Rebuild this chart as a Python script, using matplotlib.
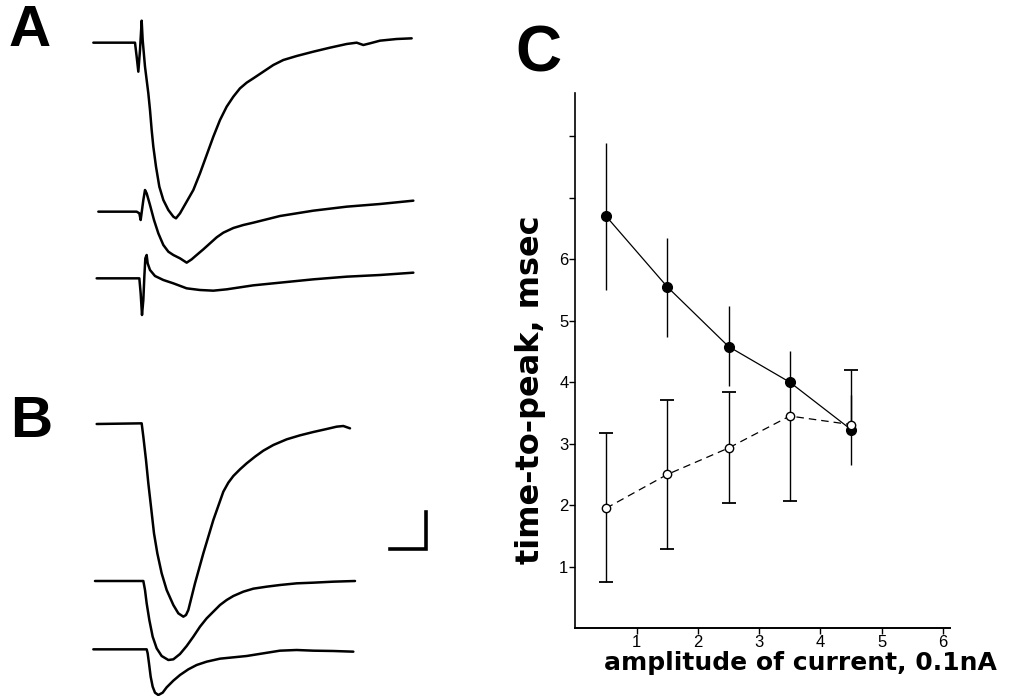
import matplotlib
matplotlib.use("Agg")
import matplotlib.pyplot as plt
import numpy as np

# ---------------- Panel C data ----------------
amp = [0.5, 1.5, 2.5, 3.5, 4.5]
filled_y = [6.70, 5.55, 4.58, 4.00, 3.23]
filled_lo = [1.20, 0.81, 0.64, 0.50, 0.57]
filled_hi = [1.19, 0.79, 0.66, 0.50, 0.57]
open_y = [1.95, 2.50, 2.93, 3.45, 3.31]
open_lo = [1.20, 1.22, 0.90, 1.38, 0.0]
open_hi = [1.22, 1.21, 0.91, 0.0, 0.89]
yticks = [1, 2, 3, 4, 5, 6, 7, 8]
yticklabels = ["1", "2", "3", "4", "5", "6", "", ""]
xticks = [1, 2, 3, 4, 5, 6]
xticklabels = ["1", "2", "3", "4", "5", "6"]

# ---------------- Panel A traces (arbitrary units) ----------------
a1_t = [40, 165, 170, 175, 180, 185, 188, 195, 200, 205, 210, 215, 220, 228, 238, 250, 265, 280, 288,
        300, 320, 340, 360, 380, 400, 420, 440, 460, 480, 500, 520, 550, 580, 610, 650, 700, 750,
        800, 830, 850, 870, 900, 950, 995]
a1_v = [128, 128, 170, 215, 150, 62, 120, 200, 240, 280, 330, 390, 440, 500, 560, 600, 630, 650, 655,
        640, 605, 570, 520, 465, 410, 360, 320, 290, 265, 248, 235, 215, 195, 180, 168, 155, 143,
        132, 128, 135, 130, 122, 117, 115]
a2_t = [55, 170, 178, 182, 190, 195, 200, 210, 222, 235, 250, 265, 280, 300, 320, 335, 350, 370, 390,
        410, 430, 460, 490, 520, 560, 600, 650, 700, 750, 800, 900, 1000]
a2_v = [635, 635, 640, 660, 600, 570, 580, 615, 660, 700, 735, 755, 765, 775, 788, 778, 765, 748, 730,
        712, 698, 684, 675, 668, 658, 648, 640, 632, 626, 620, 612, 602]
a3_t = [50, 178, 182, 186, 190, 193, 196, 200, 203, 210, 225, 250, 280, 320, 360, 400, 440, 480, 520,
        600, 700, 800, 900, 1000]
a3_v = [835, 835, 880, 945, 900, 830, 775, 765, 790, 810, 828, 840, 850, 865, 870, 872, 868, 862, 856,
        848, 838, 830, 825, 818]

# ---------------- Panel B traces ----------------
b1_t = [50, 185, 190, 198, 205, 213, 222, 232, 245, 260, 280, 295, 310, 318, 325, 345, 370, 400, 430,
        445, 460, 480, 500, 525, 550, 580, 620, 660, 700, 740, 770, 790, 810]
b1_v = [72, 70, 110, 180, 250, 320, 400, 460, 520, 570, 615, 640, 650, 645, 630, 550, 460, 360, 275,
        248, 228, 208, 190, 170, 152, 135, 118, 106, 96, 87, 80, 78, 85]
b2_t = [45, 190, 195, 200, 208, 218, 230, 245, 265, 280, 300, 320, 340, 360, 380, 400, 420, 440, 460,
        490, 520, 560, 600, 650, 700, 760, 825]
b2_v = [543, 543, 570, 610, 660, 710, 745, 768, 780, 778, 762, 738, 710, 680, 655, 635, 615, 600, 588,
        575, 566, 560, 555, 550, 548, 545, 543]
b3_t = [40, 200, 203, 207, 212, 218, 225, 235, 248, 260, 280, 300, 325, 350, 380, 420, 460, 500, 550,
        600, 650, 700, 760, 820]
b3_v = [748, 748, 760, 790, 830, 860, 878, 885, 878, 862, 842, 825, 808, 795, 785, 776, 772, 768, 760,
        752, 750, 752, 753, 755]
scale_t = [930, 1037, 1037]
scale_v = [446, 446, 335]

W, H = 1013, 696
fig = plt.figure(figsize=(W / 100, H / 100), dpi=100)
fig.patch.set_facecolor("white")

# Panel A
axA = fig.add_axes([80 / W, (H - 330) / H, 350 / W, 330 / H])
for t, v in [(a1_t, a1_v), (a2_t, a2_v), (a3_t, a3_v)]:
    axA.plot(t, v, color="black", lw=1.8, solid_joinstyle="round", solid_capstyle="round")
axA.set_xlim(0, 1050)
axA.set_ylim(990, 0)
axA.axis("off")

# Panel B
axB = fig.add_axes([80 / W, 0, 380 / W, 296 / H])
for t, v in [(b1_t, b1_v), (b2_t, b2_v), (b3_t, b3_v)]:
    axB.plot(t, v, color="black", lw=1.8, solid_joinstyle="round", solid_capstyle="round")
axB.plot(scale_t, scale_v, color="black", lw=2.6, solid_joinstyle="miter")
axB.set_xlim(0, 1140)
axB.set_ylim(888, 0)
axB.axis("off")

# Panel C
x0, y0 = 575.4, 628.2
sx, sy = 61.26, 61.5
xmax, ymax = 6.11, 8.70
axC = fig.add_axes([x0 / W, (H - y0) / H, xmax * sx / W, ymax * sy / H])

amp_a = np.array(amp)
fy, flo, fhi = np.array(filled_y), np.array(filled_lo), np.array(filled_hi)
oy, olo, ohi = np.array(open_y), np.array(open_lo), np.array(open_hi)
# filled-series error bars (no caps)
axC.vlines(amp_a, fy - flo, fy + fhi, color="black", lw=1.0)
# open-series error bars (capped, one-sided where only one side is visible)
axC.vlines(amp_a, oy - olo, oy + ohi, color="black", lw=1.0)
m_lo = olo > 0
m_hi = ohi > 0
axC.plot(amp_a[m_lo], (oy - olo)[m_lo], ls="none", marker="_", ms=9.5, mew=1.3, color="black")
axC.plot(amp_a[m_hi], (oy + ohi)[m_hi], ls="none", marker="_", ms=9.5, mew=1.3, color="black")

axC.plot(amp, filled_y, "-", color="black", lw=0.9, marker="o", ms=7, mfc="black", mec="black",
         zorder=3)
axC.plot(amp, open_y, color="black", lw=0.9, ls=(0, (6, 4)), marker="o", ms=6,
         mfc="white", mec="black", mew=1.0, zorder=4)
axC.set_xlim(0, xmax)
axC.set_ylim(0, ymax)
for s in ["top", "right"]:
    axC.spines[s].set_visible(False)
axC.spines["left"].set_linewidth(1.2)
axC.spines["bottom"].set_linewidth(1.4)
axC.set_xticks(xticks)
axC.set_xticklabels(xticklabels)
axC.set_yticks(yticks)
axC.set_yticklabels(yticklabels)
axC.tick_params(direction="out", length=4, width=1, labelsize=12, pad=1)
for lab in axC.get_xticklabels() + axC.get_yticklabels():
    lab.set_family("Liberation Sans")

axC.set_ylabel("time-to-peak, msec", fontsize=23, fontweight="bold", family="DejaVu Sans",
               va="center")
axC.yaxis.set_label_coords((531 - x0) / (xmax * sx), (y0 - 390) / (ymax * sy))
axC.set_xlabel("amplitude of current, 0.1nA", fontsize=18, fontweight="bold",
               family="DejaVu Sans", va="center")
axC.xaxis.set_label_coords((800 - x0) / (xmax * sx), (y0 - 663) / (ymax * sy))

# Panel letters
fig.text(30 / W, 1 - 31 / H, "A", fontsize=42, fontweight="bold", family="Liberation Sans",
         ha="center", va="center")
fig.text(31 / W, 1 - 422 / H, "B", fontsize=42, fontweight="bold", family="Liberation Sans",
         ha="center", va="center")
fig.text(538 / W, 1 - 55 / H, "C", fontsize=46, fontweight="bold", family="Liberation Sans",
         ha="center", va="center")

fig.savefig("out.png", dpi=100, facecolor="white")
